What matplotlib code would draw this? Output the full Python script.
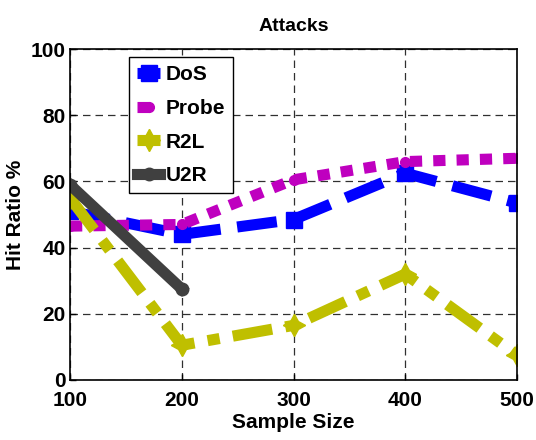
import matplotlib
matplotlib.use("Agg")
import matplotlib.pyplot as plt

plt.rcParams['font.family'] = ['Liberation Sans', 'DejaVu Sans']
plt.rcParams['font.weight'] = 'bold'

sample_sizes = [100, 200, 300, 400, 500]
dos = [51, 44, 48.5, 62.5, 53.5]
probe = [46.5, 47, 60.5, 66, 67]
r2l = [55, 10.5, 16.5, 32, 7.5]
u2r_x = [100, 200]
u2r = [59, 27.5]
xticks = [100, 200, 300, 400, 500]
yticks = [0, 20, 40, 60, 80, 100]

fig = plt.figure(figsize=(5.36, 4.4), dpi=100)
ax = fig.add_axes([0.1306, 0.1364, 0.834, 0.752])

lw = 8
ax.plot(sample_sizes, dos, color='#0000ff', lw=lw, ls=(0, (3.6, 1.5)), marker='s', ms=11,
        dash_capstyle='butt', label='DoS')
ax.plot(sample_sizes, probe, color='#bf00bf', lw=lw, ls=(0, (1.1, 1.0)), marker='o', ms=7,
        dash_capstyle='butt', label='Probe')
ax.plot(sample_sizes, r2l, color='#bfbf00', lw=lw, ls=(0, (3.6, 1.2, 1.1, 1.2)), marker=(4, 1, 0), ms=16,
        dash_capstyle='butt', label='R2L')
ax.plot(u2r_x, u2r, color='#404040', lw=lw, ls='-', marker='o', ms=9, label='U2R')

ax.set_xlim(100, 500)
ax.set_ylim(0, 100)
ax.set_xticks(xticks)
ax.set_yticks(yticks)
ax.tick_params(direction='in', labelsize=15, width=1, length=4)
ax.tick_params(axis='x', pad=8)
ax.tick_params(axis='y', pad=3)
for lbl in ax.get_xticklabels() + ax.get_yticklabels():
    lbl.set_fontweight('bold')
ax.grid(True, color='#303030', ls=(0, (6, 4)), lw=0.9)
for s in ax.spines.values():
    s.set_linewidth(1.2)

ax.set_xlabel('Sample Size', fontsize=15, fontweight='bold', labelpad=2)
ax.set_ylabel('Hit Ratio %', fontsize=15, fontweight='bold', labelpad=4)
ax.set_title('Attacks', fontsize=14, fontweight='bold', pad=13)

leg = ax.legend(loc='upper left', bbox_to_anchor=(0.132, 0.976), fontsize=15, handlelength=1.1,
                fancybox=False, framealpha=1, edgecolor='black', borderpad=0.4,
                labelspacing=0.7, handletextpad=0.25, borderaxespad=0)
leg.get_frame().set_linewidth(1.0)
for t in leg.get_texts():
    t.set_fontweight('bold')

fig.savefig('out.png', dpi=100)
